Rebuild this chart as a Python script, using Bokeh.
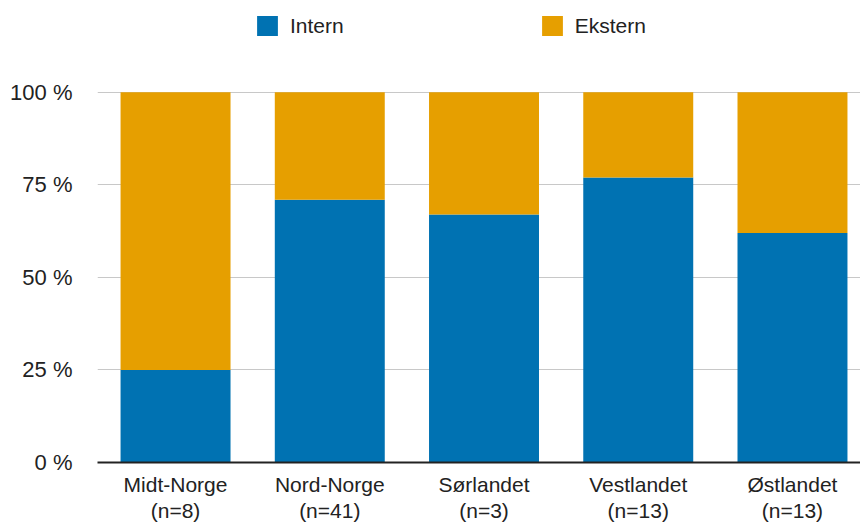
from bokeh.plotting import figure
from bokeh.models import (ColumnDataSource, FixedTicker, PrintfTickFormatter,
                          Legend, LegendItem, Range1d)
from bokeh.embed import file_html
from bokeh.resources import INLINE

# Share of intern vs. ekstern per region (percent)
regions = ["Midt-Norge", "Nord-Norge", "Sørlandet", "Vestlandet", "Østlandet"]
counts = [8, 41, 3, 13, 13]
intern = [25, 71, 67, 77, 62]
ekstern = [75, 29, 33, 23, 38]
y_ticks = [0, 25, 50, 75, 100]

BLUE = "#0072B2"
ORANGE = "#E69F00"
FONT = "Liberation Sans"
TEXT = "#222222"

xs = list(range(len(regions)))
source = ColumnDataSource(dict(x=xs, Intern=intern, Ekstern=ekstern))

# Frame runs to the top of the canvas so the legend can sit above the 100 % line
p = figure(width=860, height=524, output_backend="svg", toolbar_location=None,
           x_range=Range1d(-0.506, 4.441), y_range=Range1d(0, 124.8),
           min_border_left=97, min_border_right=0, min_border_top=0,
           min_border_bottom=61, outline_line_color=None)

renderers = p.vbar_stack(["Intern", "Ekstern"], x="x", width=0.713,
                         color=[BLUE, ORANGE], line_color=None, source=source)

# Category axis with two-line labels
p.xaxis.ticker = FixedTicker(ticks=xs)
p.xaxis.major_label_overrides = {i: f"{r}\n(n={n})" for i, (r, n) in
                                 enumerate(zip(regions, counts))}
p.xaxis.major_tick_line_color = None
p.xaxis.minor_tick_line_color = None
p.xaxis.major_tick_out = 0
p.xaxis.axis_line_color = TEXT
p.xaxis.axis_line_width = 2
p.xaxis.major_label_standoff = 10
p.xaxis.major_label_text_font = FONT
p.xaxis.major_label_text_font_size = "21px"
p.xaxis.major_label_text_line_height = 1.15
p.xaxis.major_label_text_color = TEXT
p.xgrid.grid_line_color = None

# Percent axis
p.yaxis.ticker = FixedTicker(ticks=y_ticks)
p.yaxis.formatter = PrintfTickFormatter(format="%d %%")
p.yaxis.axis_line_color = None
p.yaxis.major_tick_line_color = None
p.yaxis.minor_tick_line_color = None
p.yaxis.major_tick_out = 0
p.yaxis.major_label_standoff = 25
p.yaxis.major_label_text_font = FONT
p.yaxis.major_label_text_font_size = "22px"
p.yaxis.major_label_text_color = TEXT
p.ygrid.ticker = FixedTicker(ticks=y_ticks)
p.ygrid.grid_line_color = "#c8c8c8"
p.ygrid.grid_line_width = 1

legend = Legend(items=[LegendItem(label="Intern", renderers=[renderers[0]]),
                       LegendItem(label="Ekstern", renderers=[renderers[1]])],
                orientation="horizontal", location=(157, 424),
                glyph_width=26, glyph_height=25, label_standoff=10,
                spacing=195, padding=0, margin=0,
                border_line_color=None, background_fill_alpha=0,
                label_text_font=FONT, label_text_font_size="21px",
                label_text_color=TEXT)
p.add_layout(legend, "center")

open("out.html", "w").write(file_html(p, INLINE))
